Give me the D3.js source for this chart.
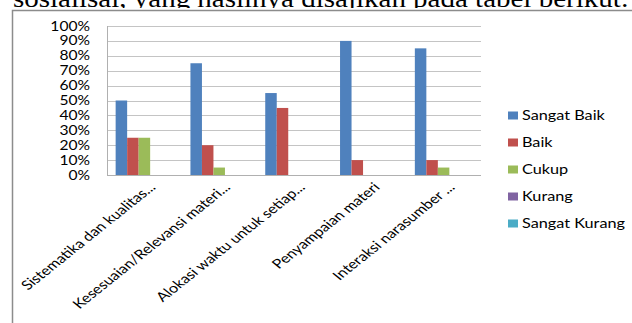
<!DOCTYPE html>
<html><head><meta charset="utf-8">
<script src="https://cdn.jsdelivr.net/npm/d3@7"></script>
<style>
html,body{margin:0;padding:0;background:#fff;overflow:hidden;}
svg{display:block;}
</style>
</head><body>
<svg id="c" width="632" height="323"></svg>
<script>
const categories = ["Sistematika dan kualitas...", "Kesesuaian/Relevansi materi...", "Alokasi waktu untuk setiap...", "Penyampaian materi", "Interaksi narasumber ..."];
const seriesNames = ["Sangat Baik", "Baik", "Cukup", "Kurang", "Sangat Kurang"];
const sangatBaik = [50, 75, 55, 90, 85];
const baik = [25, 20, 45, 10, 10];
const cukup = [25, 5, 0, 0, 5];
const kurang = [0, 0, 0, 0, 0];
const sangatKurang = [0, 0, 0, 0, 0];
const yTicks = [0, 10, 20, 30, 40, 50, 60, 70, 80, 90, 100];
const colors = ["#4f81bd", "#c0504d", "#9bbb59", "#8064a2", "#4bacc6"];
const headingText = "sosialisai, yang hasilnya disajikan pada tabel berikut:";

const values = [sangatBaik, baik, cukup, kurang, sangatKurang];
const SX = 1.25; // horizontal stretch of the picture
const font = "Lato, 'Open Sans', sans-serif";

const svg = d3.select("#c");

// heading text, partially hidden behind chart box
svg.append("text")
  .attr("transform", `translate(13,6.5) scale(1.16,1)`)
  .attr("font-family", "'Liberation Serif', serif")
  .attr("font-size", 25)
  .attr("fill", "#000")
  .text(headingText);

svg.append("rect").attr("x", 0).attr("y", 8).attr("width", 632).attr("height", 315).attr("fill", "#fff");
// chart frame
svg.append("path").attr("d", "M12.5,323 V10.5 H632")
  .attr("fill", "none").attr("stroke", "#8c8c8c").attr("stroke-width", 1.5);

const x0 = d3.scaleBand().domain(categories).range([107, 481]).paddingInner(0.231).paddingOuter(0.1155);
const x1 = d3.scaleBand().domain(seriesNames).range([0, x0.bandwidth()]);
const y = d3.scaleLinear().domain([0, 100]).range([175, 26]);

// gridlines
svg.append("g").selectAll("line").data(yTicks).join("line")
  .attr("x1", 107).attr("x2", 481)
  .attr("y1", d => Math.round(y(d)) + 0.5).attr("y2", d => Math.round(y(d)) + 0.5)
  .attr("stroke", d => d === 0 ? "#b0b0b0" : "#c4c4c4").attr("stroke-width", 1);
// vertical axis line
svg.append("line").attr("x1", 107.5).attr("x2", 107.5).attr("y1", y(100)).attr("y2", y(0) + 1)
  .attr("stroke", "#b0b0b0");

// y tick labels
svg.append("g").selectAll("text").data(yTicks).join("text")
  .attr("transform", d => `translate(90,${y(d)}) scale(${SX},1)`)
  .attr("dy", "0.36em")
  .attr("text-anchor", "end")
  .attr("font-family", font).attr("font-size", 12.5).attr("fill", "#000")
  .text(d => d + "%");

// bars
const groups = svg.append("g").selectAll("g").data(categories).join("g")
  .attr("transform", d => `translate(${x0(d)},0)`);
groups.selectAll("rect").data((c, i) => seriesNames.map((s, j) => ({s, j, v: values[j][i]})))
  .join("rect")
  .attr("x", d => x1(d.s))
  .attr("width", x1.bandwidth())
  .attr("y", d => y(d.v))
  .attr("height", d => y(0) - y(d.v))
  .attr("fill", d => colors[d.j]);

// category labels
svg.append("g").selectAll("text").data(categories).join("text")
  .attr("transform", d => `translate(${x0(d) + x0.bandwidth() / 2 + 12},188) scale(${SX},1) rotate(-45)`)
  .attr("text-anchor", "end")
  .attr("font-family", font).attr("font-size", 13).attr("fill", "#000")
  .text(d => d);

// legend
const leg = svg.append("g").selectAll("g").data(seriesNames).join("g")
  .attr("transform", (d, i) => `translate(508,${115.5 + i * 27})`);
leg.append("rect").attr("x", 0).attr("y", -4).attr("width", 10).attr("height", 8)
  .attr("fill", (d, i) => colors[i]);
leg.append("text")
  .attr("transform", `translate(14,0) scale(${SX},1)`)
  .attr("dy", "0.36em")
  .attr("font-family", font).attr("font-size", 13).attr("fill", "#000")
  .text(d => d);
</script>
</body></html>
